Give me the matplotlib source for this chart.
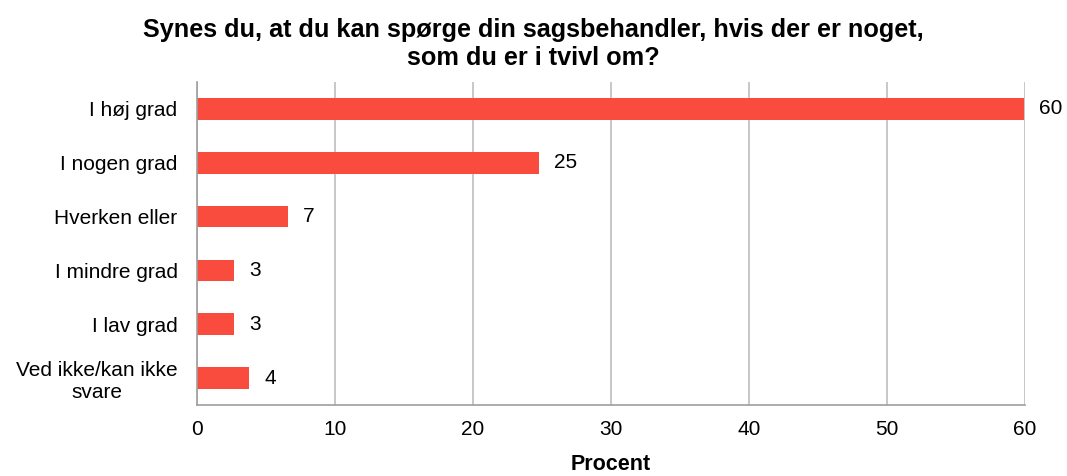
import matplotlib
matplotlib.use("Agg")
import matplotlib.pyplot as plt

plt.rcParams['font.family'] = ['Liberation Sans', 'DejaVu Sans']

categories = ["I høj grad", "I nogen grad", "Hverken eller", "I mindre grad",
              "I lav grad", "Ved ikke/kan ikke\nsvare"]
values = [59.9, 24.8, 6.6, 2.7, 2.7, 3.8]
xticks = [0, 10, 20, 30, 40, 50, 60]

fig = plt.figure(figsize=(10.67, 4.76), dpi=100)
ax = fig.add_axes([197/1067, 1-405/476, (1025-197)/1067, (405-82)/476])

ypos = list(range(len(categories)))
bars = ax.barh(ypos, values, height=0.4, color="#F94C3E", zorder=3)
ax.set_ylim(len(categories) - 0.5, -0.5)
ax.set_xlim(0, 60)
ax.set_yticks(ypos)
ax.set_yticklabels(categories, fontsize=15, multialignment="center")
ax.set_xticks(xticks)
ax.set_xticklabels([str(t) for t in xticks], fontsize=15)
ax.tick_params(axis="x", length=0, pad=11)
ax.tick_params(axis="y", length=0, pad=14)
ax.grid(axis="x", color="#BDBDBD", linewidth=1.2, zorder=0)
for s in ["top", "right"]:
    ax.spines[s].set_visible(False)
for s in ["left", "bottom"]:
    ax.spines[s].set_color("#9E9E9E")
    ax.spines[s].set_linewidth(1.2)
    ax.spines[s].set_zorder(4)

for b, v in zip(bars, values):
    ax.text(b.get_width() + 1.1, b.get_y() + b.get_height() / 2, "%.0f" % v,
            va="center", ha="left", fontsize=15, clip_on=False)

ax.set_xlabel("Procent", fontsize=15.5, fontweight="bold", labelpad=10.5)
fig.text(0.4995, 0.963, "Synes du, at du kan spørge din sagsbehandler, hvis der er noget,\nsom du er i tvivl om?",
         ha="center", va="top", fontsize=18.2, fontweight="bold", linespacing=1.25)

fig.savefig("out.png", dpi=100)
